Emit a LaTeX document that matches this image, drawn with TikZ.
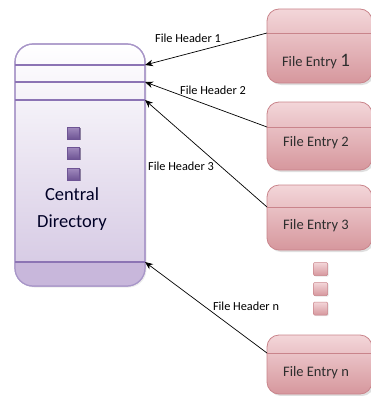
\documentclass[tikz,border=0pt]{standalone}
\usepackage{fontspec}
\setmainfont{Carlito}
\usepackage{xcolor}
\usepackage{tikz}
\usetikzlibrary{arrows.meta, positioning, shadows}

\definecolor{cdedge}{HTML}{A896C8}
\definecolor{cdlow}{HTML}{D3C6E2}
\definecolor{cdband}{HTML}{C8B7DB}
\definecolor{cdline}{HTML}{8C74B4}
\definecolor{cddot}{HTML}{8A6EAE}
\definecolor{cddotlow}{HTML}{6E5494}
\definecolor{entrytop}{HTML}{F3D6D9}
\definecolor{entrylow}{HTML}{D6979D}
\definecolor{entryedge}{HTML}{C9848B}
\definecolor{entrytext}{HTML}{2E2E2E}

\begin{document}
\begin{tikzpicture}[
    x=1pt, y=-1pt,
    dirbox/.style={draw=cdedge, line width=1.2pt, rounded corners=18pt, top color=white, bottom color=cdlow, minimum width=130pt, minimum height=242pt, inner sep=0pt, outer sep=0pt, drop shadow={opacity=0.15, shadow xshift=1.5pt, shadow yshift=-1.5pt}},
    entrybox/.style={draw=entryedge, line width=0.8pt, rounded corners=12pt, top color=entrytop, bottom color=entrylow, minimum width=105pt, inner sep=0pt, outer sep=0pt, drop shadow={opacity=0.25, shadow xshift=2pt, shadow yshift=-2pt}},
    divline/.style={draw=cdline, line width=1.1pt},
    entryline/.style={draw=entryedge, line width=0.8pt},
    dirdot/.style={draw=cddotlow, line width=0.4pt, top color=cddot!80!white, bottom color=cddotlow, minimum width=12pt, minimum height=12pt, inner sep=0pt, drop shadow={opacity=0.6, shadow xshift=1pt, shadow yshift=-1.2pt, fill=cddotlow!70!black}},
    entrydot/.style={draw=entryedge, line width=0.5pt, top color=entrytop, bottom color=entrylow, minimum width=14pt, minimum height=13pt, inner sep=0pt, rounded corners=1pt, drop shadow={opacity=0.2, shadow xshift=1pt, shadow yshift=-1pt}},
    entrytxt/.style={text=entrytext, font=\fontsize{14.5}{17}\selectfont},
    hdrlabel/.style={font=\fontsize{12.3}{14}\selectfont, inner sep=0pt},
    hdrarrow/.style={-{Stealth[length=8pt, width=6.5pt]}, line width=0.7pt}
]
    \useasboundingbox (0,0) rectangle (370,396);

    % central directory
    \node[dirbox] (cd) at (80,165) {};
    \begin{scope}
        \clip[rounded corners=18pt] (cd.south west) rectangle (cd.north east);
        \fill[cdband] (cd.west |- 0,262) rectangle (cd.south east);
    \end{scope}
    \draw[draw=cdedge, line width=1.2pt, rounded corners=18pt] (cd.south west) rectangle (cd.north east);
    \coordinate (cd1) at (cd.east |- 0,65);
    \coordinate (cd2) at (cd.east |- 0,82);
    \coordinate (cd3) at (cd.east |- 0,100);
    \coordinate (cdn) at (cd.east |- 0,262);
    \draw[divline] (cd.west |- cd1) -- (cd1);
    \draw[divline] (cd.west |- cd2) -- (cd2);
    \draw[divline] (cd.west |- cd3) -- (cd3);
    \draw[divline] (cd.west |- cdn) -- (cdn);

    \node[dirdot] (d1) at (73.5,133) {};
    \node[dirdot] (d2) at (73.5,153) {};
    \node[dirdot] (d3) at (73.5,174) {};
    \node[align=center, text=black!85!blue, font=\fontsize{18.5}{27}\selectfont] (cdtxt) at (72,209) {Central\\Directory};

    % file entries
    \node[entrybox, minimum height=74pt] (e1) at (319.5,46) {};
    \node[entrybox, minimum height=68pt] (e2) at (319.5,136) {};
    \node[entrybox, minimum height=65pt] (e3) at (319.5,217.5) {};
    \node[entrybox, minimum height=59pt] (en) at (319.5,364.5) {};
    \coordinate (e1h) at (e1.west |- 0,33);
    \coordinate (e2h) at (e2.west |- 0,127);
    \coordinate (e3h) at (e3.west |- 0,207);
    \coordinate (enh) at (en.west |- 0,353);
    \draw[entryline] (e1h) -- (e1.east |- e1h);
    \draw[entryline] (e2h) -- (e2.east |- e2h);
    \draw[entryline] (e3h) -- (e3.east |- e3h);
    \draw[entryline] (enh) -- (en.east |- enh);

    \node[entrytxt] (t1) at (316,62) {File Entry {\fontsize{19}{20}\selectfont 1}};
    \node[entrytxt] (t2) at (316,143) {File Entry 2};
    \node[entrytxt] (t3) at (316,226) {File Entry 3};
    \node[entrytxt] (tn) at (316,373) {File Entry n};

    \node[entrydot] (p1) at (320.5,269) {};
    \node[entrydot] (p2) at (320.5,289) {};
    \node[entrydot] (p3) at (320.5,308.5) {};

    % headers
    \draw[hdrarrow] (e1h) -- (cd1);
    \draw[hdrarrow] (e2h) -- (cd2);
    \draw[hdrarrow] (e3h) -- (cd3);
    \draw[hdrarrow] (enh) -- (cdn);
    \node[hdrlabel] (h1) at (188,38) {File Header 1};
    \node[hdrlabel] (h2) at (213,90) {File Header 2};
    \node[hdrlabel] (h3) at (181,166) {File Header 3};
    \node[hdrlabel] (hn) at (246,306) {File Header n};
\end{tikzpicture}
\end{document}
